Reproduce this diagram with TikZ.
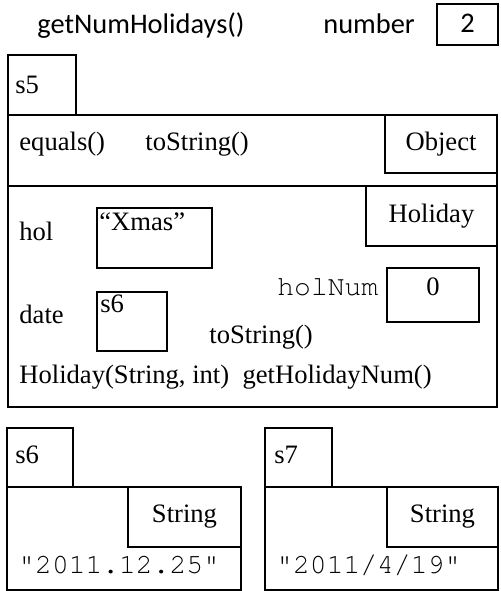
\documentclass[tikz,border=0pt]{standalone}
\usepackage{fontspec}
\setmainfont{Liberation Serif}
\newfontfamily\monofont{TeX Gyre Cursor}
\newfontfamily\calfont{Carlito}
\begin{document}
\begin{tikzpicture}[x=0.5pt,y=-0.5pt,
  box/.style={draw=black,line width=1pt},
  lbl/.style={anchor=base west,inner sep=0pt,font=\fontsize{13.3}{16}\selectfont},
  clbl/.style={anchor=base,inner sep=0pt,font=\fontsize{13.3}{16}\selectfont},
  mlbl/.style={anchor=base west,inner sep=0pt,font=\monofont\fontsize{14}{16}\selectfont},
  tlbl/.style={anchor=base west,inner sep=0pt,font=\calfont\fontsize{14.2}{17}\selectfont}]
\useasboundingbox (0,0) rectangle (500,591);
% top line
\node[tlbl] (gnh) at (37,33) {getNumHolidays()};
\node[tlbl] (num) at (323,33) {number};
\draw[box] (437,4) rectangle (498,45);
\node[anchor=base,inner sep=0pt,font=\calfont\fontsize{14.2}{17}\selectfont] (two) at (467.5,32) {2};
% s5 object
\draw[box] (8,55) rectangle (76,115);
\node[lbl] (s5) at (15,93) {s5};
\draw[box] (8,115) rectangle (497,186);
\draw[box] (385,115) rectangle (497,173);
\node[lbl] (eq) at (19,150) {equals()};
\node[lbl] (ts1) at (145,150) {toString()};
\node[clbl] (obj) at (441,150) {Object};
\draw[box] (8,186) rectangle (497,407);
\draw[box] (366,186) rectangle (497,246);
\node[clbl] (hcls) at (431.5,222) {Holiday};
\node[lbl] (hol) at (19,240) {hol};
\draw[box] (97,208) rectangle (212,268);
\node[lbl] (xmas) at (99,230) {“Xmas”};
\node[mlbl] (holnum) at (277,295) {holNum};
\draw[box] (387,268) rectangle (479,322);
\node[clbl] (zero) at (433,295) {0};
\node[lbl] (date) at (19,323) {date};
\draw[box] (97,292) rectangle (167,351);
\node[lbl] (s6ref) at (100,312) {s6};
\node[lbl] (ts2) at (209,343) {toString()};
\node[lbl] (ctor) at (19,383) {Holiday(String, int)\ \ getHolidayNum()};
% s6 string
\draw[box] (7,428) rectangle (73,487);
\node[lbl] (s6) at (15,463) {s6};
\draw[box] (7,487) rectangle (241,590);
\draw[box] (128,487) rectangle (241,547);
\node[clbl] (str1) at (184.5,522) {String};
\node[mlbl] (v1) at (18,573) {"2011.12.25"};
% s7 string
\draw[box] (265,428) rectangle (332,487);
\node[lbl] (s7) at (274,463) {s7};
\draw[box] (265,487) rectangle (498,590);
\draw[box] (387,487) rectangle (498,547);
\node[clbl] (str2) at (442.5,522) {String};
\node[mlbl] (v2) at (276,573) {"2011/4/19"};
\end{tikzpicture}
\end{document}
